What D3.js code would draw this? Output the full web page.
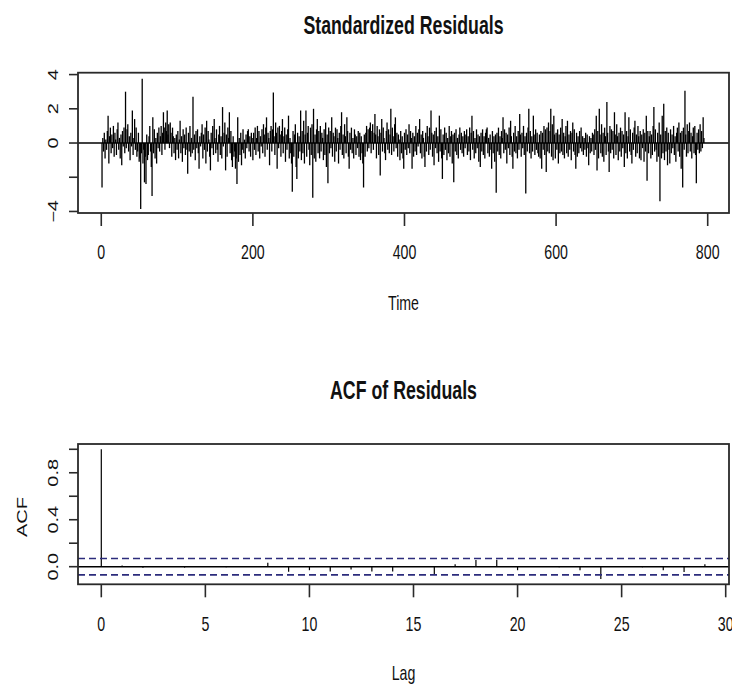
<!DOCTYPE html>
<html>
<head>
<meta charset="utf-8">
<script src="https://cdn.jsdelivr.net/npm/d3@7/dist/d3.min.js"></script>
<style>
  html, body { margin: 0; padding: 0; background: #fff; }
  text { font-family: "Liberation Sans", Arial, sans-serif; fill: #111; }
</style>
</head>
<body>
<svg id="chart" width="732" height="684"></svg>
<script>
// Standardized residuals, t = 1..795
const residuals = [
  -2.6,0.3,-0.5,0.6,-0.9,0.2,-0.4,0.7,1.6,-1.2,0.4,0.9,-0.6,0.5,-0.3,1.0,-0.8,0.6,0.2,-0.7,0.8,1.2,-0.4,0.3,-0.9,
  0.5,-1.3,0.7,-0.2,0.9,-0.6,3.0,-0.3,0.8,1.1,-0.5,0.4,-1.0,0.6,-0.2,1.9,-0.7,0.3,1.4,-0.4,0.9,-0.8,-0.5,0.6,-1.1,
  -0.9,-3.85,-0.6,3.75,-1.2,-0.4,-2.3,-0.8,-2.4,0.5,-1.0,-0.7,0.4,1.0,-0.5,-1.4,-3.1,1.5,-0.6,0.8,-0.9,0.3,-1.2,0.6,-0.3,
  0.9,-0.5,0.4,1.0,-0.7,0.6,1.8,0.9,-0.4,1.2,0.7,1.9,0.5,1.1,-0.3,1.2,0.6,-0.8,0.9,0.4,-0.6,0.3,-1.0,0.5,-0.4,
  0.7,-0.9,0.2,1.3,-0.6,0.4,-1.1,0.8,-0.3,0.5,-0.7,0.9,-0.4,-1.8,0.6,-0.5,1.0,-0.8,0.3,-0.6,2.7,-0.4,0.5,-1.0,0.7,
  -0.3,0.8,-0.6,-1.5,0.4,-0.2,0.6,1.1,-0.9,0.5,-0.4,0.9,-1.2,1.3,-0.5,0.7,0.2,-0.8,-1.6,0.6,-0.3,1.0,-0.7,1.4,0.3,
  -0.6,0.8,-0.4,-1.1,0.5,1.0,-0.7,0.4,-0.9,2.1,-0.2,0.6,1.2,-1.6,0.5,-0.8,0.9,0.3,1.8,-0.6,0.7,-1.0,-1.4,0.4,-0.8,
  -0.5,-1.5,-0.9,-2.4,1.5,-1.1,0.3,-0.7,0.6,-1.3,-0.4,0.8,-0.6,0.2,-0.9,0.5,-0.3,0.7,0.8,-0.5,0.4,-0.8,0.6,0.3,-1.0,
  0.6,-0.4,0.9,-0.7,0.3,1.0,-0.5,0.7,-0.9,0.4,-0.2,0.8,-0.6,1.1,0.5,-0.8,0.9,1.5,-0.4,0.6,0.3,-1.3,0.7,1.0,-0.5,
  0.8,2.95,0.4,-0.7,1.2,0.6,-1.5,0.9,-0.3,1.0,0.5,-0.8,0.7,1.4,-0.6,0.4,0.9,-1.1,0.5,-0.4,0.8,1.6,-0.9,0.3,-0.6,
  -1.2,-2.85,0.7,-0.8,0.5,1.1,-1.4,-2.1,0.6,-0.9,0.4,-0.5,1.9,-1.0,0.7,-0.6,1.3,-1.2,0.5,1.9,-0.8,0.6,1.0,-0.4,-1.3,
  0.9,-0.7,1.1,-3.2,2.0,-0.9,0.5,-1.1,0.8,1.4,-0.6,0.7,-0.9,1.0,-0.5,0.6,0.3,-1.0,0.8,-0.7,1.2,-1.4,0.5,-2.35,0.9,
  -0.6,0.7,-0.3,1.5,-0.8,0.6,0.4,-1.1,0.9,-0.5,0.8,0.3,-1.2,0.6,-0.4,1.0,1.8,-0.7,0.5,-0.9,1.1,0.4,-0.6,1.5,0.7,
  -0.8,-1.5,0.6,-0.4,0.9,-0.6,0.3,-0.9,0.8,0.5,-0.7,0.4,-0.3,0.7,-0.8,0.6,-1.0,0.4,-0.6,-1.2,-2.6,0.5,-0.8,0.6,1.0,
  -0.5,0.8,-0.3,0.9,1.2,-0.6,0.7,1.1,-0.4,0.6,1.7,0.5,-0.9,1.0,0.4,-0.7,0.8,-1.9,0.6,1.4,-0.5,0.9,0.3,-0.6,-1.0,
  0.7,1.2,-0.4,0.8,-0.6,0.5,2.0,-0.7,0.9,0.4,-0.5,1.1,1.5,-0.3,0.6,-0.8,0.5,0.2,-1.0,0.7,-0.6,0.4,-0.9,-1.5,0.6,
  -0.4,0.8,-0.7,0.5,-0.3,1.1,-0.6,0.7,0.3,-1.5,0.6,-0.8,0.4,-0.5,1.0,-0.7,0.6,-0.2,0.8,1.4,-0.6,0.5,-0.9,0.7,0.3,
  -0.8,-1.4,0.6,-0.5,1.0,0.4,-0.7,0.9,-0.4,1.9,0.6,-0.8,0.5,-1.3,0.7,-0.3,0.9,-0.6,0.4,-1.1,1.6,-0.5,0.8,-0.9,-2.1,
  0.5,-0.7,0.9,-0.4,0.6,-1.0,0.3,-0.6,1.0,-0.8,0.4,0.7,-1.2,0.5,-2.3,0.6,-0.5,0.8,-0.7,0.3,-0.9,0.5,0.9,-0.4,0.6,
  -0.6,0.4,-0.8,0.7,-0.3,0.5,0.8,-0.7,0.4,-0.5,0.9,-1.0,0.6,1.6,-0.4,0.7,-0.9,0.3,-0.6,0.8,-0.3,0.5,-1.1,0.4,-1.4,
  0.6,-0.5,0.8,-0.7,0.4,-0.9,0.6,0.8,0.9,-0.6,0.3,-0.8,0.5,-0.4,-1.5,0.7,-0.6,0.4,-1.1,0.5,-2.9,0.6,-0.5,0.9,-0.7,
  0.4,-0.9,0.7,0.3,1.5,-0.6,0.8,-0.4,0.6,-1.2,0.5,-0.3,0.9,-0.7,1.3,0.4,-0.8,-1.5,0.6,-0.5,1.0,-0.6,0.4,-0.9,0.7,
  -0.4,1.7,0.5,-0.8,0.6,-0.3,1.0,-0.7,0.4,-2.95,0.6,-0.5,0.9,2.0,-0.6,0.7,-0.9,0.4,-0.5,1.6,0.5,-0.7,0.8,-0.4,0.6,
  -0.6,-0.8,0.5,-0.9,0.7,-1.5,0.6,-0.4,1.0,-0.7,0.8,-1.7,0.9,-0.5,1.2,-0.6,0.7,2.0,-0.8,1.1,-1.0,1.6,0.5,-0.9,0.6,
  -0.4,0.8,-1.2,0.5,-0.6,0.9,-0.5,1.4,-0.7,0.6,-0.9,0.4,1.0,-0.6,1.3,-0.8,0.5,-0.4,0.7,-1.0,0.6,1.2,-0.5,0.8,-0.7,
  -1.5,0.6,-0.8,0.4,-0.6,0.7,-0.3,0.9,-0.5,0.4,-0.7,0.3,-0.4,0.6,-0.8,0.5,-0.3,-1.3,0.4,-0.6,0.3,-0.5,0.6,0.5,-0.7,
  0.8,-0.4,1.6,-1.6,0.7,-0.9,2.0,0.5,-0.6,1.1,-0.8,0.6,-1.1,0.9,0.4,-0.7,2.4,0.6,-0.5,-1.7,1.0,-0.6,0.8,-0.4,0.7,
  -0.9,1.8,0.5,-0.7,1.1,0.4,-1.0,0.6,-0.5,0.9,-0.8,0.7,-0.3,0.5,-1.4,1.8,-0.6,0.7,-0.9,0.4,1.5,-0.5,0.8,-0.7,-1.2,
  0.6,-0.4,0.9,1.3,-0.8,0.5,-0.6,1.0,0.4,-0.9,0.7,-1.0,0.5,-0.3,0.8,-1.1,0.6,-0.5,1.6,-2.2,0.7,-0.6,0.4,0.7,-0.9,
  0.5,-0.7,1.0,2.1,-0.5,0.8,-0.4,-1.1,0.6,-0.8,1.2,-3.4,0.5,-0.9,1.6,-0.6,2.3,-1.0,0.7,-0.5,0.9,-1.3,0.6,-0.4,-1.2,
  0.8,-0.6,0.5,-0.3,1.0,-0.7,0.4,-1.1,0.6,0.9,-0.5,1.2,-0.8,0.6,-1.5,0.7,-2.6,0.9,-0.4,3.05,0.5,-0.8,1.1,-0.6,0.7,
  1.2,-0.5,0.6,-0.9,0.4,0.9,-0.6,1.0,-0.7,-2.35,0.6,-0.4,0.8,-0.6,1.1,-0.5,0.7,-0.3,1.5,0.3
];

// Sample autocorrelation of the residuals, lags 0..30
const acfValues = [
  1, 0.010, -0.010, 0.005, -0.008, 0.006, -0.004, 0.003, 0.034, -0.043, -0.030,
  -0.040, -0.025, -0.040, -0.040, 0.004, -0.070, 0.020, 0.057, 0.060, -0.030,
  0.003, -0.004, -0.030, -0.105, 0.004, -0.005, -0.030, -0.045, 0.020, 0.005
];
const acfBound = 0.0695;

const timeTicks = [0, 200, 400, 600, 800];
const residTicks = [-4, -2, 0, 2, 4];
const residTickLabels = ["\u22124", "", "0", "2", "4"];
const lagTicks = [0, 5, 10, 15, 20, 25, 30];
const acfTicks = [0, 0.2, 0.4, 0.6, 0.8, 1.0];
const acfTickLabels = ["0.0", "", "0.4", "", "0.8", ""];

const svg = d3.select("#chart");
svg.append("rect").attr("width", 732).attr("height", 684).attr("fill", "#fff");

const SX = 0.71;          // horizontal squeeze of all lettering
const boxL = 78, boxR = 729;
const panelShift = 371.3;

function hText(x, y, str, size, weight) {
  return svg.append("text")
    .attr("transform", `translate(${x},${y}) scale(${SX},1)`)
    .attr("text-anchor", "middle")
    .attr("font-size", size)
    .attr("font-weight", weight || "normal")
    .text(str);
}
function vText(x, y, str, size) {
  return svg.append("text")
    .attr("transform", `translate(${x},${y}) scale(${SX},1) rotate(-90)`)
    .attr("text-anchor", "middle")
    .attr("font-size", size)
    .text(str);
}
function box(top, bottom) {
  svg.append("rect")
    .attr("x", boxL).attr("y", top)
    .attr("width", boxR - boxL).attr("height", bottom - top)
    .attr("fill", "none").attr("stroke", "#2a2a2a").attr("stroke-width", 1.8);
}

// ---------- Panel 1: standardized residuals ----------
const top1 = 72.7, bot1 = 213;
const xT = d3.scaleLinear().domain([-30.7, 828.1]).range([boxL, boxR]);
const yR = d3.scaleLinear().domain([-4.09, 4.11]).range([bot1, top1]);

svg.append("g").selectAll("line").data(residuals).join("line")
  .attr("x1", (d, i) => xT(i + 1)).attr("x2", (d, i) => xT(i + 1))
  .attr("y1", yR(0)).attr("y2", d => yR(d))
  .attr("stroke", "#000").attr("stroke-width", 1.3);

svg.append("line")
  .attr("x1", boxL).attr("x2", boxR)
  .attr("y1", yR(0)).attr("y2", yR(0))
  .attr("stroke", "#000").attr("stroke-width", 1.4);

box(top1, bot1);

timeTicks.forEach(t => {
  svg.append("line").attr("x1", xT(t)).attr("x2", xT(t))
    .attr("y1", bot1).attr("y2", bot1 + 13)
    .attr("stroke", "#2a2a2a").attr("stroke-width", 1.6);
  hText(xT(t), 259, String(t), 20);
});
residTicks.forEach((v, i) => {
  svg.append("line").attr("x1", boxL).attr("x2", boxL - 9)
    .attr("y1", yR(v)).attr("y2", yR(v))
    .attr("stroke", "#2a2a2a").attr("stroke-width", 1.6);
  if (residTickLabels[i]) vText(58, yR(v), residTickLabels[i], 20);
});
hText((boxL + boxR) / 2, 34, "Standardized Residuals", 25, "bold");
hText((boxL + boxR) / 2, 310, "Time", 20);

// ---------- Panel 2: ACF of residuals ----------
const top2 = top1 + panelShift, bot2 = bot1 + panelShift;
const xL = d3.scaleLinear().domain([0, 30]).range([101.3, 725.7]);
const yA = d3.scaleLinear().domain([-0.15, 1.045]).range([bot2, top2]);

svg.append("g").selectAll("line").data(acfValues).join("line")
  .attr("x1", (d, i) => xL(i)).attr("x2", (d, i) => xL(i))
  .attr("y1", yA(0)).attr("y2", d => yA(d))
  .attr("stroke", "#000").attr("stroke-width", 1.2);

svg.append("line")
  .attr("x1", boxL).attr("x2", boxR)
  .attr("y1", yA(0)).attr("y2", yA(0))
  .attr("stroke", "#000").attr("stroke-width", 1.4);

[acfBound, -acfBound].forEach(b => {
  svg.append("line")
    .attr("x1", boxL).attr("x2", boxR)
    .attr("y1", yA(b)).attr("y2", yA(b))
    .attr("stroke", "#2c2c7c").attr("stroke-width", 1.6)
    .attr("stroke-dasharray", "7,4");
});

box(top2, bot2);

lagTicks.forEach(t => {
  svg.append("line").attr("x1", xL(t)).attr("x2", xL(t))
    .attr("y1", bot2).attr("y2", bot2 + 13)
    .attr("stroke", "#2a2a2a").attr("stroke-width", 1.6);
  hText(xL(t), 631, String(t), 20);
});
acfTicks.forEach((v, i) => {
  svg.append("line").attr("x1", boxL).attr("x2", boxL - 9)
    .attr("y1", yA(v)).attr("y2", yA(v))
    .attr("stroke", "#2a2a2a").attr("stroke-width", 1.6);
  if (acfTickLabels[i]) vText(58, yA(v), acfTickLabels[i], 20);
});
vText(27, 517, "ACF", 20);
hText((boxL + boxR) / 2, 399, "ACF of Residuals", 25, "bold");
hText((boxL + boxR) / 2, 680, "Lag", 20);
</script>
</body>
</html>
